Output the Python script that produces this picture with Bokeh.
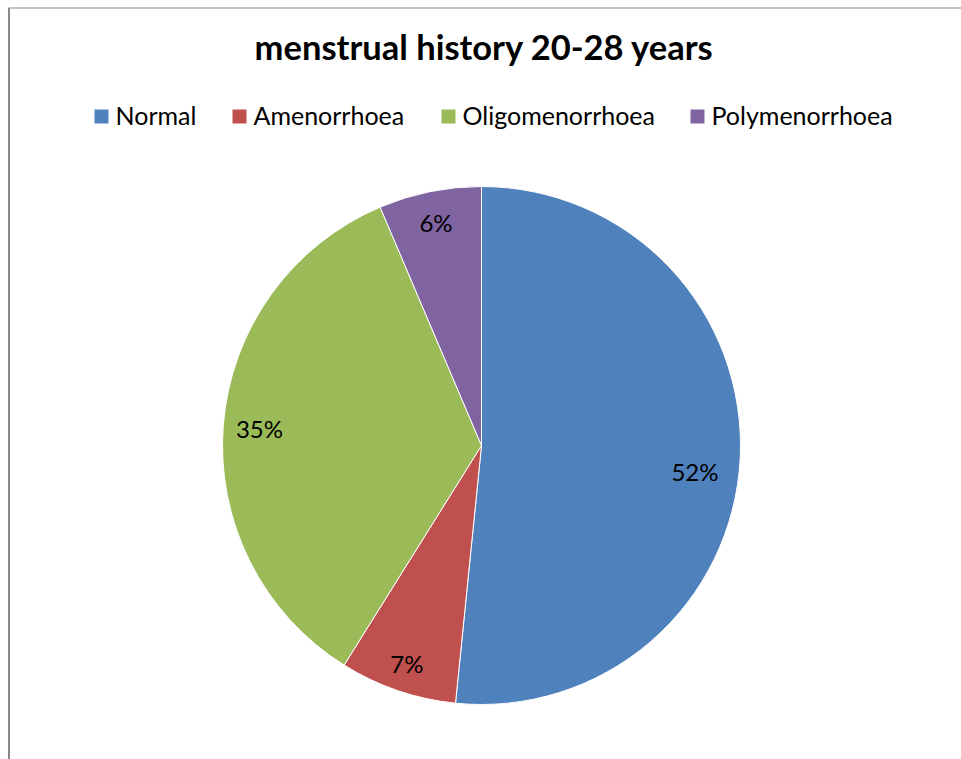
import math
from bokeh.plotting import figure
from bokeh.models import Range1d, ColumnDataSource
from bokeh.core.properties import value
from bokeh.embed import file_html
from bokeh.resources import INLINE

# ---- data ----
title = "menstrual history 20-28 years"
categories = ["Normal", "Amenorrhoea", "Oligomenorrhoea", "Polymenorrhoea"]
percents = [51.6, 7.3, 34.7, 6.4]
colors = ["#4F81BD", "#C0504D", "#9BBB59", "#8064A2"]

# ---- layout (image pixel coordinates; y measured from top) ----
W, H = 961, 759
FONT = "Lato"
cx, cy_img, R = 481, 445, 259
label_frac = [0.83, 0.89, 0.86, 0.88]
label_nudge_deg = [-4, 0, 0, 0]
legend_sq_x = [94, 232, 441, 690]
legend_y_img = 116

def Y(img_y):
    return 759 - img_y

p = figure(width=W, height=H, output_backend="svg", toolbar_location=None,
           x_range=Range1d(0, 961), y_range=Range1d(0, 759),
           min_border=0)
p.axis.visible = False
p.grid.visible = False
p.outline_line_color = None
p.background_fill_color = "white"

# chart border (partially visible)
p.line([8.5, 8.5], [Y(770), Y(7.5)], line_color="#888888", line_width=2)
p.line([8, 970], [Y(7.5), Y(7.5)], line_color="#888888", line_width=1)

# pie
total = sum(percents)
starts, ends, mids = [], [], []
cum = 0.0
for v in percents:
    a0 = math.pi / 2 - 2 * math.pi * cum / total
    cum += v
    a1 = math.pi / 2 - 2 * math.pi * cum / total
    starts.append(a0)
    ends.append(a1)
    mids.append((a0 + a1) / 2)

src = ColumnDataSource(dict(start=starts, end=ends, color=colors, cat=categories))
p.wedge(x=cx, y=Y(cy_img), radius=R, start_angle="start", end_angle="end",
        direction="clock", fill_color="color", line_color="white", line_width=1,
        source=src)

# data labels
angs = [m + math.radians(n) for m, n in zip(mids, label_nudge_deg)]
lx = [cx + f * R * math.cos(a) for a, f in zip(angs, label_frac)]
ly = [Y(cy_img) + f * R * math.sin(a) for a, f in zip(angs, label_frac)]
labels = [f"{round(v / total * 100)}%" for v in percents]
p.text(x=lx, y=ly, text=labels, text_font=value(FONT), text_font_size="24px",
       text_align="center", text_baseline="middle", text_color="black")

# title
p.text(x=[484], y=[Y(46)], text=[title], text_font=value(FONT),
       text_font_size="34.5px", text_font_style="bold",
       text_align="center", text_baseline="middle", text_color="black")

# legend
sq = 14
p.rect(x=[x + sq / 2 for x in legend_sq_x], y=[Y(legend_y_img)] * 4,
       width=sq, height=sq, fill_color=colors, line_color=None)
p.text(x=[x + 21 for x in legend_sq_x], y=[Y(legend_y_img - 1.5)] * 4, text=categories,
       text_font=value(FONT), text_font_size="25px", text_align="left",
       text_baseline="middle", text_color="black")

open("out.html", "w").write(file_html(p, INLINE))
